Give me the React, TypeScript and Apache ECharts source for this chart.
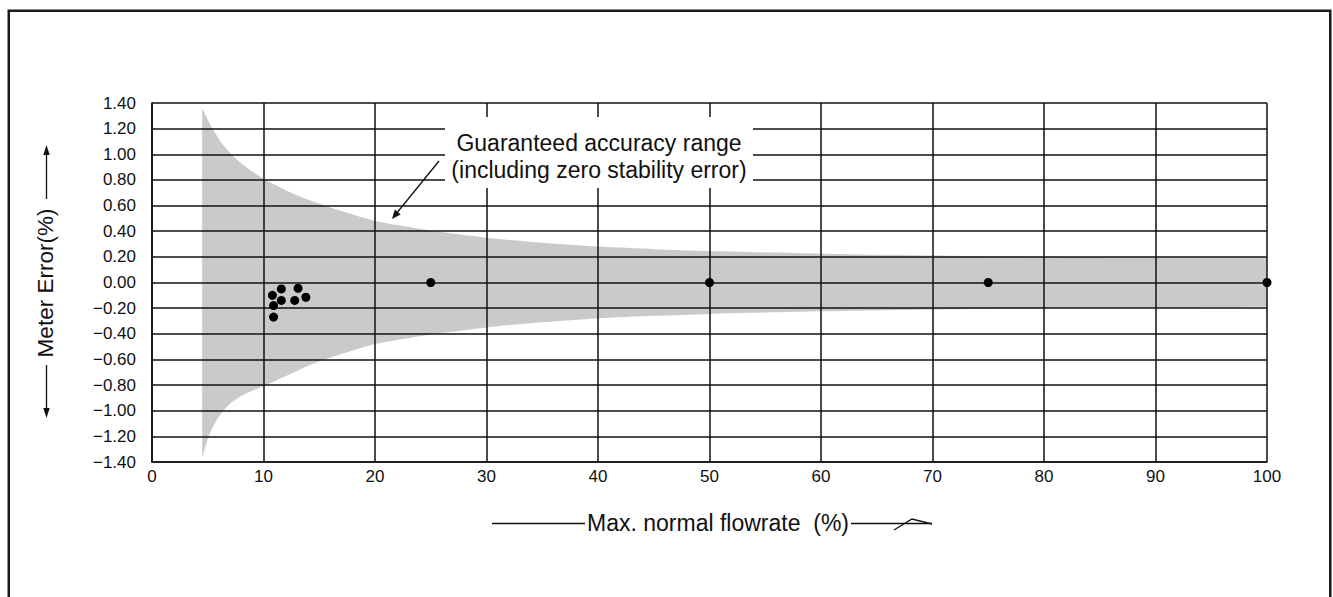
import React, { useEffect, useRef } from "react";
import * as echarts from "echarts";

// Guaranteed accuracy band
const bandX = [4.5, 5, 5.5, 6, 6.5, 7, 8, 9, 10, 11, 12, 13, 14, 16, 18, 20, 22.5, 25, 30, 35, 40, 45, 50, 60, 70, 80, 90, 100];
const bandUpper = [1.36, 1.27, 1.19, 1.12, 1.06, 1.01, 0.93, 0.865, 0.81, 0.765, 0.72, 0.68, 0.645, 0.585, 0.53, 0.48, 0.44, 0.405, 0.35, 0.31, 0.28, 0.26, 0.245, 0.225, 0.21, 0.2, 0.195, 0.19];
const bandLower = [-1.37, -1.22, -1.12, -1.045, -0.99, -0.945, -0.885, -0.845, -0.81, -0.77, -0.73, -0.69, -0.65, -0.585, -0.53, -0.48, -0.44, -0.405, -0.35, -0.31, -0.28, -0.26, -0.245, -0.225, -0.21, -0.2, -0.195, -0.19];

// Measured meter errors
const measX = [10.8, 11.6, 13.1, 13.8, 12.8, 11.6, 10.9, 10.9, 25, 50, 75, 100];
const measY = [-0.1, -0.05, -0.045, -0.115, -0.14, -0.14, -0.18, -0.27, 0, 0, 0, 0];

const xMin = 0, xMax = 100, xStep = 10;
const yMin = -1.4, yMax = 1.4, yStep = 0.2;

const xName = "Max. normal flowrate  (%)";
const yName = "Meter Error(%)";
const noteLines = ["Guaranteed accuracy range", "(including zero stability error)"];

const FONT = "'Liberation Sans', Arial, Helvetica, sans-serif";
const BAND = "#c9cacc";
const INK = "#111111";

export default function App() {
  const ref = useRef<HTMLDivElement>(null);
  useEffect(() => {
    if (!ref.current) return;
    const chart = echarts.init(ref.current, undefined, { renderer: "svg" });
    const upper = bandX.map((x, i) => [x, bandUpper[i]]);
    const lower = bandX.map((x, i) => [x, bandLower[i]]);
    const pts = measX.map((x, i) => [x, measY[i]]);
    const fmtY = (v: number) => {
      const r = Math.round(v * 100) / 100;
      if (Math.abs(r) < 1e-9) return "0.00";
      return r < 0 ? "\u2212" + Math.abs(r).toFixed(2) : r.toFixed(2);
    };
    const bandSeries = (data: number[][]) => ({
      type: "line",
      data,
      z: 1,
      symbol: "none",
      smooth: 0.25,
      lineStyle: { width: 0 },
      areaStyle: { color: BAND, opacity: 1, origin: 0 },
      silent: true,
    });
    chart.setOption({
      animation: false,
      backgroundColor: "#ffffff",
      grid: { left: 152, top: 103, width: 1115, height: 359, containLabel: false },
      xAxis: {
        type: "value",
        min: xMin,
        max: xMax,
        interval: xStep,
        z: 5,
        axisLine: { show: true, onZero: false, lineStyle: { color: INK, width: 1.6 } },
        axisTick: { show: false },
        splitLine: { show: true, lineStyle: { color: INK, width: 1.5 } },
        axisLabel: { color: "#111", fontFamily: FONT, fontSize: 17, margin: 6 },
      },
      yAxis: {
        type: "value",
        min: yMin,
        max: yMax,
        interval: yStep,
        z: 5,
        axisLine: { show: true, onZero: false, lineStyle: { color: INK, width: 1.6 } },
        axisTick: { show: false },
        splitLine: { show: true, lineStyle: { color: INK, width: 1.5 } },
        axisLabel: { color: "#111", fontFamily: FONT, fontSize: 17, margin: 16, formatter: fmtY },
      },
      series: [
        bandSeries(upper),
        bandSeries(lower),
        {
          type: "scatter",
          data: pts,
          z: 10,
          symbol: "circle",
          symbolSize: 9,
          itemStyle: { color: "#000", opacity: 1 },
        },
      ],
      graphic: [
        {
          type: "rect",
          z: 100,
          silent: true,
          shape: { x: 8.75, y: 10.75, width: 1321.5, height: 800 },
          style: { fill: "none", stroke: "#1a1a1a", lineWidth: 2.5 },
        },
        {
          type: "rect",
          z: 100,
          shape: { x: 445, y: 117, width: 308, height: 71 },
          style: { fill: "#ffffff" },
        },
        {
          type: "text",
          z: 101,
          x: 599,
          y: 143,
          style: { text: noteLines[0], fill: "#111", font: `23px ${FONT}`, textAlign: "center", textVerticalAlign: "middle" },
        },
        {
          type: "text",
          z: 101,
          x: 599,
          y: 170,
          style: { text: noteLines[1], fill: "#111", font: `23px ${FONT}`, textAlign: "center", textVerticalAlign: "middle" },
        },
        {
          type: "line",
          z: 101,
          shape: { x1: 439, y1: 161, x2: 396, y2: 214 },
          style: { stroke: "#111", lineWidth: 1.3 },
        },
        {
          type: "polygon",
          z: 101,
          shape: { points: [[392, 219], [400.6, 214.4], [394.8, 209.6]] },
          style: { fill: "#111" },
        },
        // y-axis name
        {
          type: "text",
          z: 101,
          x: 45,
          y: 283,
          rotation: Math.PI / 2,
          style: { text: yName, fill: "#111", font: `22.5px ${FONT}`, textAlign: "center", textVerticalAlign: "middle" },
        },
        {
          type: "line",
          z: 101,
          shape: { x1: 46.5, y1: 199, x2: 46.5, y2: 152 },
          style: { stroke: "#111", lineWidth: 1.3 },
        },
        {
          type: "polygon",
          z: 101,
          shape: { points: [[46.5, 145], [43.3, 155], [49.7, 155]] },
          style: { fill: "#111" },
        },
        {
          type: "line",
          z: 101,
          shape: { x1: 46.5, y1: 365, x2: 46.5, y2: 410 },
          style: { stroke: "#111", lineWidth: 1.3 },
        },
        {
          type: "polygon",
          z: 101,
          shape: { points: [[46.5, 418], [43.3, 408], [49.7, 408]] },
          style: { fill: "#111" },
        },
        // x-axis name
        {
          type: "text",
          z: 101,
          x: 718,
          y: 523,
          style: { text: xName, fill: "#111", font: `23px ${FONT}`, textAlign: "center", textVerticalAlign: "middle" },
        },
        {
          type: "line",
          z: 101,
          shape: { x1: 492, y1: 523.5, x2: 585, y2: 523.5 },
          style: { stroke: "#111", lineWidth: 1.3 },
        },
        {
          type: "line",
          z: 101,
          shape: { x1: 851, y1: 523.5, x2: 932, y2: 523.5 },
          style: { stroke: "#111", lineWidth: 1.3 },
        },
        {
          type: "polyline",
          z: 101,
          shape: { points: [[894, 530], [912, 519], [932, 524]] },
          style: { stroke: "#111", lineWidth: 1.3, fill: "none" },
        },
      ],
    });
    return () => chart.dispose();
  }, []);
  return (
    <div
      ref={ref}
      style={{ position: "fixed", left: 0, top: 0, width: 1333, height: 597, background: "#fff" }}
    />
  );
}
